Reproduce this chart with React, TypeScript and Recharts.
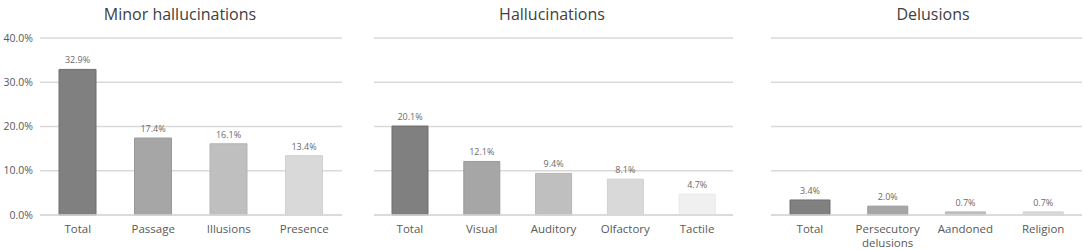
import React from "react";
import { BarChart, Bar, XAxis, YAxis, CartesianGrid, Cell, LabelList } from "recharts";

const minorCategories = ["Total", "Passage", "Illusions", "Presence"];
const minorValues = [32.9, 17.4, 16.1, 13.4];

const hallCategories = ["Total", "Visual", "Auditory", "Olfactory", "Tactile"];
const hallValues = [20.1, 12.1, 9.4, 8.1, 4.7];

const delCategories = ["Total", "Persecutory delusions", "Aandoned", "Religion"];
const delValues = [3.4, 2.0, 0.7, 0.7];

const yTicks = [0, 10, 20, 30, 40];
const titles = ["Minor hallucinations", "Hallucinations", "Delusions"];

const fills = ["#808080", "#a6a6a6", "#bfbfbf", "#d9d9d9", "#f0f0f0"];
const strokes = ["#6e6e6e", "#999999", "#b4b4b4", "#d0d0d0", "#e8e8e8"];

const FONT = "'Open Sans', 'Noto Sans', sans-serif";
const TEXT = "#595959";
const GRID = "#d9d9d9";

const build = (cats: string[], vals: number[]) => cats.map((c, i) => ({ name: c, value: vals[i] }));

const CatTick = (props: any) => {
  const { x, y, payload } = props;
  const label: string = payload.value;
  const lines = label.length > 14 ? label.split(" ") : [label];
  return (
    <text x={x} y={y} textAnchor="middle" fill={TEXT} fontSize={11.5} fontFamily={FONT}>
      {lines.map((l, i) => (
        <tspan key={i} x={x} dy={i === 0 ? 10 : 14}>{l}</tspan>
      ))}
    </text>
  );
};

const Panel = ({ cats, vals, width, barSize, showY, rightMargin }: any) => (
  <BarChart
    width={width}
    height={250}
    data={build(cats, vals)}
    margin={{ top: 38, right: rightMargin, bottom: 0, left: 0 }}
  >
    <CartesianGrid vertical={false} stroke={GRID} strokeWidth={1.3} />
    <XAxis
      dataKey="name"
      axisLine={{ stroke: GRID, strokeWidth: 1.3 }}
      tickLine={false}
      height={35}
      interval={0}
      tick={<CatTick />}
    />
    <YAxis
      hide={!showY}
      width={40}
      domain={[0, 40]}
      ticks={yTicks}
      axisLine={false}
      tickLine={false}
      tickFormatter={(v: number) => v.toFixed(1) + "%"}
      tick={{ fill: TEXT, fontSize: 10.5, fontFamily: FONT }}
      tickMargin={1}
    />
    <Bar dataKey="value" barSize={barSize} isAnimationActive={false}>
      {vals.map((_: number, i: number) => (
        <Cell key={i} fill={fills[i]} stroke={strokes[i]} strokeWidth={1} />
      ))}
      <LabelList
        dataKey="value"
        position="top"
        offset={6}
        formatter={(v: number) => v.toFixed(1) + "%"}
        style={{ fill: "#6a6a6a", fontSize: 9, fontFamily: FONT }}
      />
    </Bar>
  </BarChart>
);

const titleStyle = (center: number): React.CSSProperties => ({
  position: "absolute",
  left: center - 150,
  width: 300,
  top: 3,
  textAlign: "center",
  fontFamily: FONT,
  fontSize: 16,
  color: "#404040",
  lineHeight: "22px",
});

export default function App() {
  return (
    <div style={{ position: "relative", width: 1084, height: 250, background: "#fff", overflow: "hidden" }}>
      <style>{`body{margin:0;}`}</style>
      <div style={titleStyle(180)}>{titles[0]}</div>
      <div style={titleStyle(552)}>{titles[1]}</div>
      <div style={titleStyle(933)}>{titles[2]}</div>
      <div style={{ position: "absolute", left: 0, top: 0 }}>
        <Panel cats={minorCategories} vals={minorValues} width={344} barSize={37} showY={true} rightMargin={2} />
      </div>
      <div style={{ position: "absolute", left: 374, top: 0 }}>
        <Panel cats={hallCategories} vals={hallValues} width={359} barSize={36} showY={false} rightMargin={0} />
      </div>
      <div style={{ position: "absolute", left: 771, top: 0 }}>
        <Panel cats={delCategories} vals={delValues} width={311} barSize={40} showY={false} rightMargin={0} />
      </div>
    </div>
  );
}
